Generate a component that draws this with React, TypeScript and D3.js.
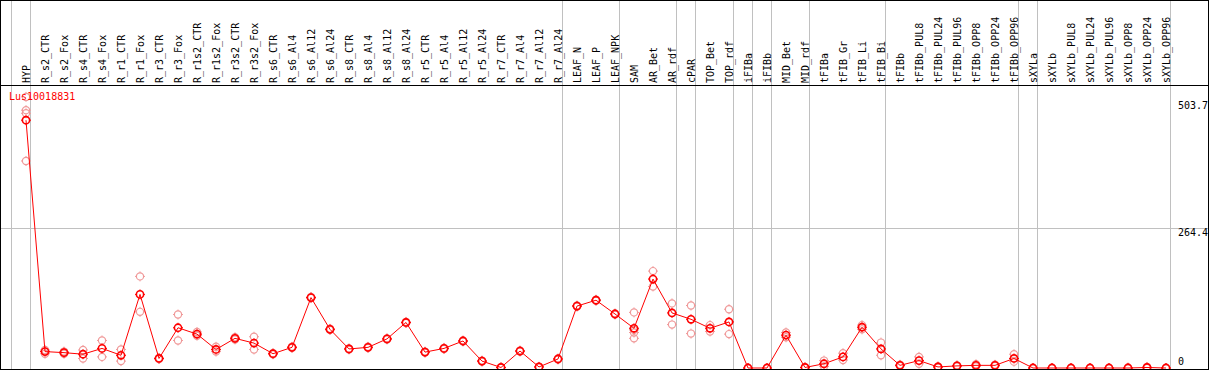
import React from "react";
import * as d3 from "d3";

const categories = [
  "HYP", "R_s2_CTR", "R_s2_Fox", "R_s4_CTR", "R_s4_Fox", "R_r1_CTR", "R_r1_Fox", "R_r3_CTR", "R_r3_Fox",
  "R_r1s2_CTR", "R_r1s2_Fox", "R_r3s2_CTR", "R_r3s2_Fox", "R_s6_CTR", "R_s6_Al4", "R_s6_Al12", "R_s6_Al24",
  "R_s8_CTR", "R_s8_Al4", "R_s8_Al12", "R_s8_Al24", "R_r5_CTR", "R_r5_Al4", "R_r5_Al12", "R_r5_Al24",
  "R_r7_CTR", "R_r7_Al4", "R_r7_Al12", "R_r7_Al24", "LEAF_N", "LEAF_P", "LEAF_NPK", "SAM", "AR_Bet", "AR_rdf",
  "cPAR", "TOP_Bet", "TOP_rdf", "iFIBa", "iFIBb", "MID_Bet", "MID_rdf", "tFIBa", "tFIB_Gr", "tFIB_Li", "tFIB_Bi",
  "tFIBb", "tFIBb_PUL8", "tFIBb_PUL24", "tFIBb_PUL96", "tFIBb_OPP8", "tFIBb_OPP24", "tFIBb_OPP96",
  "sXYLa", "sXYLb", "sXYLb_PUL8", "sXYLb_PUL24", "sXYLb_PUL96", "sXYLb_OPP8", "sXYLb_OPP24", "sXYLb_OPP96",
];

const means = [
  468, 31, 29, 26, 37, 24, 139, 18, 76,
  64, 35, 56, 47, 27, 39, 133, 73,
  36, 39, 55, 86, 30, 37, 51, 13,
  1, 32, 2, 17, 117, 128, 102, 75, 168, 104,
  92, 75, 87, 0, 0, 62, 1, 8, 21, 77, 36,
  5, 14, 2, 4, 5, 5, 18,
  0, 0, 0, 0, 0, 0, 1, 0,
];

const replicates = [
  [512, 487, 481, 391], [34, 27], [31, 27], [34, 18], [52, 21], [35, 13], [173, 106], [19, 17], [101, 52],
  [68, 61], [40, 31], [58, 54], [59, 35], [28, 26], [40, 38], [134, 132], [74, 72],
  [37, 35], [40, 38], [56, 54], [87, 85], [31, 29], [38, 36], [52, 50], [14, 12],
  [1, 1], [33, 31], [2, 2], [18, 16], [118, 116], [129, 127], [103, 101], [105, 67, 56, 72], [183, 154], [122, 82],
  [118, 65], [81, 69], [111, 64], [0, 0], [0, 0], [67, 58], [1, 1], [14, 3], [28, 15], [81, 73], [48, 24],
  [6, 4], [21, 8], [3, 1], [5, 3], [7, 3], [6, 4], [26, 12],
  [0, 0], [0, 0], [0, 0], [0, 0], [0, 0], [1, 0], [2, 0], [0, 0],
];

const yTicks = [0, 264.4, 503.7];
const gridValues = [264.4];
const groupEnds = ["HYP", "R_r7_Al24", "LEAF_NPK", "AR_rdf", "cPAR", "TOP_rdf", "iFIBa", "iFIBb", "MID_rdf", "tFIB_Bi", "tFIBb_OPP96", "sXYLa", "sXYLb_OPP96"];
const geneName = "Lus10018831";

const W = 1209;
const H = 370;
const FONT = "'DejaVu Sans Mono', monospace";

export default function App() {
  React.useEffect(() => {
    document.body.style.margin = "0";
  }, []);

  const x = d3.scalePoint<string>().domain(categories).range([26, 26 + 19 * (categories.length - 1)]);
  const step = x.step();
  const y = d3.scaleLinear().domain([0, 503.7]).range([368, 101.3]);

  const line = d3
    .line<number>()
    .x((_, i) => x(categories[i]) as number)
    .y((d) => y(d));

  const gridXs = [(x(categories[0]) as number) - step + 4.5, ...groupEnds.map((c) => (x(c) as number) + 4.5)];

  const marker = (cx: number, cy: number, color: string, sw: number, key: string) => (
    <g key={key}>
      <circle cx={cx} cy={cy} r={3.6} fill="none" stroke={color} strokeWidth={sw} />
      <line x1={cx} x2={cx} y1={cy - 5} y2={cy + 5} stroke={color} strokeWidth={1} strokeDasharray="1.4 7.2" />
      <line x1={cx - 5} x2={cx + 5} y1={cy} y2={cy} stroke={color} strokeWidth={1} strokeDasharray="1.4 7.2" />
    </g>
  );

  return (
    <svg width={W} height={H} style={{ position: "absolute", left: 0, top: 0, background: "#fff" }}>
      <rect x={0} y={0} width={W} height={H} fill="#fff" />
      {gridXs.map((gx, i) => (
        <line key={"gx" + i} x1={gx} x2={gx} y1={0} y2={H} stroke="#c0c0c0" strokeWidth={1} />
      ))}
      {gridValues.map((v, i) => (
        <line key={"gy" + i} x1={0} x2={W} y1={Math.round(y(v)) + 0.5} y2={Math.round(y(v)) + 0.5} stroke="#c0c0c0" strokeWidth={1} />
      ))}
      <line x1={0} x2={W} y1={85.5} y2={85.5} stroke="#000" strokeWidth={1} />
      {categories.map((c) => (
        <text
          key={"lab" + c}
          transform={`translate(${(x(c) as number) + 3.5},83) rotate(-90)`}
          textAnchor="start"
          fontFamily={FONT}
          fontSize={10}
          fill="#000"
          style={{ textAnchor: "start" }}
        >
          {c}
        </text>
      )).map((el) => React.cloneElement(el, { textAnchor: "start" }))}
      {yTicks.map((v, i) => (
        <text key={"yt" + i} x={1178} y={v === 0 ? 365 : y(v) + 8} fontFamily={FONT} fontSize={10} fill="#000">
          {d3.format("")(v)}
        </text>
      ))}
      <g>
        {replicates.map((reps, i) =>
          reps.map((v, j) => marker(x(categories[i]) as number, y(v), "#f09a9a", 1.2, `r${i}-${j}`))
        )}
      </g>
      <path d={line(means) ?? ""} fill="none" stroke="#ff0000" strokeWidth={1} />
      <g>{means.map((v, i) => marker(x(categories[i]) as number, y(v), "#ff0000", 1.6, `m${i}`))}</g>
      <text x={9} y={100} fontFamily={FONT} fontSize={10} fill="#ff0000">
        {geneName}
      </text>
      <rect x={0.5} y={0.5} width={W - 1} height={H - 1} fill="none" stroke="#000" strokeWidth={1} />
    </svg>
  );
}
